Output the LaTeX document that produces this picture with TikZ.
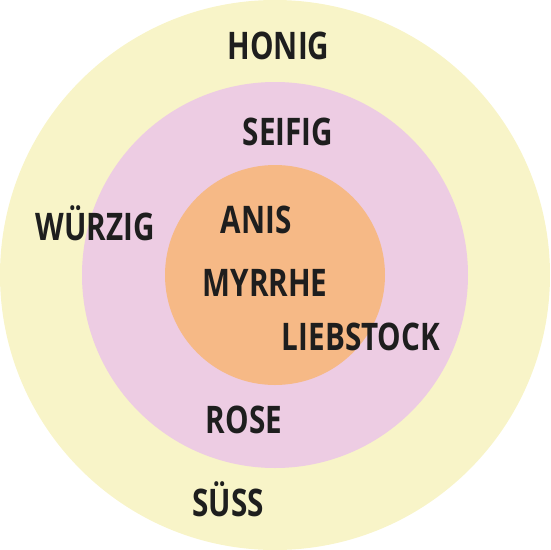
\documentclass[tikz,border=0pt]{standalone}
\usepackage{fontspec}
\setmainfont[FakeStretch=0.78]{Open Sans}
\definecolor{outerc}{HTML}{F8F4C8}
\definecolor{midc}{HTML}{EDCCE3}
\definecolor{innerc}{HTML}{F6B986}
\definecolor{txt}{HTML}{1E1E1E}
\begin{document}
\begin{tikzpicture}[x=1pt,y=-1pt,
  lbl/.style={anchor=base,text=txt,font=\fontsize{38}{40}\selectfont\bfseries,inner sep=0pt}]
\useasboundingbox (0,0) rectangle (550,550);
\fill[outerc] (275,275) circle (275);
\fill[midc] (275,275) circle (193);
\fill[innerc] (275,275) circle (110);
\node[lbl] (honig) at (278.5,59.5) {HONIG};
\node[lbl] (seifig) at (288,145.5) {SEIFIG};
\node[lbl] (wurzig) at (95,240) {WÜRZIG};
\node[lbl] (anis) at (256,233.5) {ANIS};
\node[lbl] (myrrhe) at (265,296.5) {MYRRHE};
\node[lbl] (liebstock) at (361,350.5) {LIEBSTOCK};
\node[lbl] (rose) at (244,433.5) {ROSE};
\node[lbl] (suss) at (228,516.5) {SÜSS};
\end{tikzpicture}
\end{document}
